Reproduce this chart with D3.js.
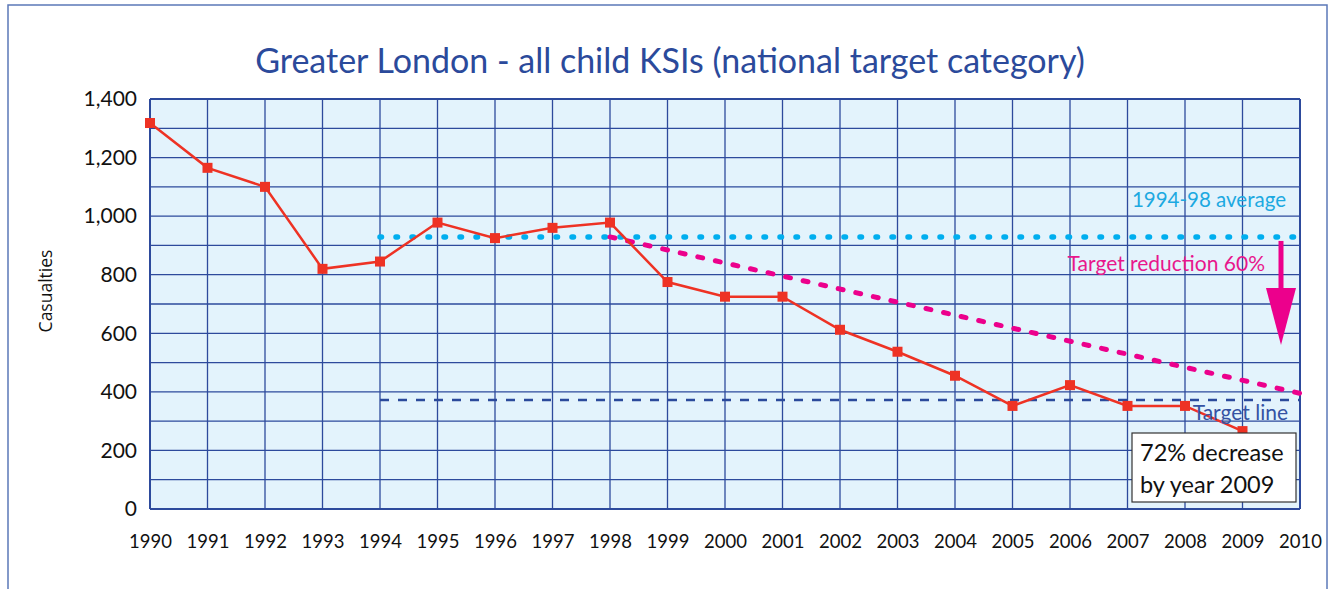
<!DOCTYPE html>
<html lang="en">
<head>
<meta charset="UTF-8">
<title>Greater London - all child KSIs</title>
<script src="https://d3js.org/d3.v7.min.js"></script>
<style>
    body { margin: 0; background: #fff; }
    text { font-family: Lato, "Open Sans", sans-serif; }
</style>
</head>
<body>
<div id="chart"></div>
<script>
    const years = [1990, 1991, 1992, 1993, 1994, 1995, 1996, 1997, 1998, 1999,
                   2000, 2001, 2002, 2003, 2004, 2005, 2006, 2007, 2008, 2009];
    const casualties = [1318, 1165, 1100, 820, 845, 978, 925, 960, 978, 775,
                        725, 725, 612, 537, 455, 352, 423, 352, 352, 266];
    const tickYears = d3.range(1990, 2011);
    const yTicks = [0, 200, 400, 600, 800, 1000, 1200, 1400];
    const average = 929;        // 1994-98 average
    const averageSpan = [1994, 2010];
    const targetLine = 372;
    const reductionLine = [{ year: 1998, value: 929 }, { year: 2010, value: 395 }];

    const width = 1331, height = 589;
    const margin = { left: 150, right: 31, top: 99, bottom: 80 };

    const svg = d3.select("#chart").append("svg")
        .attr("width", width)
        .attr("height", height);

    // outer frame
    svg.append("rect")
        .attr("x", 8).attr("y", 5)
        .attr("width", 1319).attr("height", 600)
        .attr("fill", "none")
        .attr("stroke", "#5b78b8")
        .attr("stroke-width", 1.5);

    const x = d3.scaleLinear()
        .domain([1990, 2010])
        .range([margin.left, width - margin.right]);

    const y = d3.scaleLinear()
        .domain([0, 1400])
        .range([509, margin.top]);

    // plot background
    svg.append("rect")
        .attr("x", x(1990)).attr("y", y(1400))
        .attr("width", x(2010) - x(1990))
        .attr("height", y(0) - y(1400))
        .attr("fill", "#e3f3fc");

    // grid
    svg.append("g").selectAll("line")
        .data(d3.range(0, 1401, 100))
        .join("line")
        .attr("x1", x(1990)).attr("x2", x(2010))
        .attr("y1", d => y(d)).attr("y2", d => y(d))
        .attr("stroke", "#2d4a9c")
        .attr("stroke-width", d => (d === 0 || d === 1400) ? 2 : 1.3);

    svg.append("g").selectAll("line")
        .data(tickYears)
        .join("line")
        .attr("x1", d => x(d)).attr("x2", d => x(d))
        .attr("y1", y(0)).attr("y2", y(1400))
        .attr("stroke", "#2d4a9c")
        .attr("stroke-width", d => (d === 1990 || d === 2010) ? 2 : 1.3);

    // y axis labels
    const yAxis = d3.axisLeft(y).tickValues(yTicks).tickSize(0).tickPadding(13)
        .tickFormat(d3.format(","));
    svg.append("g")
        .attr("transform", `translate(${x(1990)},0)`)
        .call(yAxis)
        .call(g => g.select(".domain").remove())
        .selectAll("text")
        .attr("font-size", 21)
        .attr("fill", "#111")
        .style("font-family", "Lato, sans-serif");

    // x axis labels
    const xAxis = d3.axisBottom(x).tickValues(tickYears).tickSize(0).tickPadding(26)
        .tickFormat(d3.format("d"));
    svg.append("g")
        .attr("transform", `translate(0,${y(0)})`)
        .call(xAxis)
        .call(g => g.select(".domain").remove())
        .selectAll("text")
        .attr("font-size", 18.5)
        .attr("fill", "#111")
        .style("font-family", "Lato, sans-serif");

    // title
    svg.append("text")
        .attr("x", 670).attr("y", 73)
        .attr("text-anchor", "middle")
        .attr("font-size", 34)
        .attr("fill", "#2b4a9b")
        .text("Greater London - all child KSIs (national target category)");

    // y title
    svg.append("text")
        .attr("transform", "translate(52,291) rotate(-90)")
        .attr("text-anchor", "middle")
        .attr("font-size", 17.5)
        .attr("fill", "#111")
        .style("font-family", "'Open Sans', sans-serif")
        .text("Casualties");

    // 1994-98 average dotted line
    svg.append("line")
        .attr("x1", x(averageSpan[0])).attr("x2", x(averageSpan[1]) - 4)
        .attr("y1", y(average)).attr("y2", y(average))
        .attr("stroke", "#00aeef")
        .attr("stroke-width", 5.5)
        .attr("stroke-linecap", "round")
        .attr("stroke-dasharray", "1.5 14.5");

    // target dashed line
    svg.append("line")
        .attr("x1", x(1994)).attr("x2", x(2010))
        .attr("y1", y(targetLine)).attr("y2", y(targetLine))
        .attr("stroke", "#2b4a9b")
        .attr("stroke-width", 2.5)
        .attr("stroke-dasharray", "9 9");

    // target reduction line
    svg.append("path")
        .datum(reductionLine)
        .attr("d", d3.line().x(d => x(d.year)).y(d => y(d.value)))
        .attr("fill", "none")
        .attr("stroke", "#ec008c")
        .attr("stroke-width", 5)
        .attr("stroke-linecap", "round")
        .attr("stroke-dasharray", "5 13");

    // data line
    const series = years.map((yr, i) => ({ year: yr, value: casualties[i] }));
    svg.append("path")
        .datum(series)
        .attr("d", d3.line().x(d => x(d.year)).y(d => y(d.value)))
        .attr("fill", "none")
        .attr("stroke", "#ee3224")
        .attr("stroke-width", 2.5);

    svg.append("g").selectAll("rect")
        .data(series)
        .join("rect")
        .attr("x", d => x(d.year) - 5)
        .attr("y", d => y(d.value) - 5)
        .attr("width", 10).attr("height", 10)
        .attr("fill", "#ee3224");

    // arrow
    const ax = 1281;
    svg.append("line")
        .attr("x1", ax).attr("x2", ax)
        .attr("y1", y(average) + 4).attr("y2", 292)
        .attr("stroke", "#ec008c")
        .attr("stroke-width", 5);
    svg.append("path")
        .attr("d", `M${ax - 15},288 L${ax + 15},288 L${ax},345 Z`)
        .attr("fill", "#ec008c");

    // annotations
    svg.append("text")
        .attr("x", 1286).attr("y", 207)
        .attr("text-anchor", "end")
        .attr("font-size", 20.5)
        .attr("fill", "#1ca9e1")
        .text("1994-98 average");

    svg.append("text")
        .attr("x", 1265).attr("y", 271)
        .attr("text-anchor", "end")
        .attr("font-size", 21)
        .attr("fill", "#e8178c")
        .text("Target reduction 60%");

    svg.append("text")
        .attr("x", 1288).attr("y", 420)
        .attr("text-anchor", "end")
        .attr("font-size", 21)
        .attr("fill", "#3552a3")
        .text("Target line");

    // result box
    svg.append("rect")
        .attr("x", 1132).attr("y", 433)
        .attr("width", 164).attr("height", 69)
        .attr("fill", "#fff")
        .attr("stroke", "#333")
        .attr("stroke-width", 1.2);
    svg.append("text")
        .attr("x", 1140).attr("y", 461)
        .attr("font-size", 23.5)
        .attr("fill", "#111")
        .text("72% decrease");
    svg.append("text")
        .attr("x", 1140).attr("y", 493)
        .attr("font-size", 23.5)
        .attr("fill", "#111")
        .text("by year 2009");
</script>
</body>
</html>
